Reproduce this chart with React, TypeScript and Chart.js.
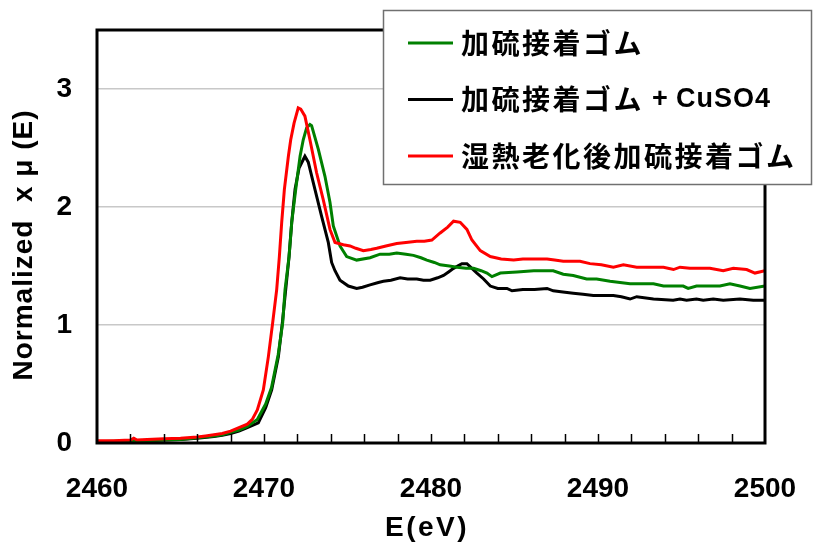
import React, { useEffect, useRef } from "react";
import { Chart, registerables } from "chart.js";

Chart.register(...registerables);

const seriesNames = ["加硫接着ゴム", "加硫接着ゴム + CuSO4", "湿熱老化後加硫接着ゴム"];
const seriesColors = ["#008000", "#000000", "#ff0000"];

const xTickLabels = [2460, 2470, 2480, 2490, 2500];
const yTickLabels = [0, 1, 2, 3];

const greenE = [2460, 2461, 2462, 2463, 2464, 2465, 2466, 2467, 2467.5, 2468, 2468.5, 2469, 2469.6, 2470.1, 2470.45, 2470.85, 2471.12, 2471.26, 2471.5, 2471.66, 2471.9, 2472.16, 2472.35, 2472.55, 2472.75, 2472.85, 2473.25, 2473.65, 2473.95, 2474.15, 2474.55, 2474.95, 2475.55, 2476.35, 2476.95, 2477.5, 2477.95, 2478.5, 2478.95, 2479.4, 2479.75, 2480.2, 2480.55, 2481.1, 2481.55, 2482.1, 2482.55, 2483, 2483.35, 2483.65, 2484.15, 2485.15, 2486.15, 2486.5, 2487.32, 2487.92, 2488.52, 2489.32, 2489.92, 2490.72, 2491.32, 2491.92, 2493.32, 2493.92, 2495.1, 2495.4, 2495.9, 2497.3, 2497.9, 2498.5, 2499.1, 2500];
const greenMu = [0.01, 0.015, 0.02, 0.02, 0.025, 0.03, 0.045, 0.06, 0.07, 0.09, 0.11, 0.14, 0.2, 0.33, 0.47, 0.75, 1.02, 1.3, 1.58, 1.87, 2.15, 2.43, 2.57, 2.67, 2.7, 2.69, 2.49, 2.26, 2.04, 1.84, 1.67, 1.58, 1.55, 1.57, 1.6, 1.6, 1.61, 1.6, 1.59, 1.57, 1.55, 1.53, 1.51, 1.5, 1.49, 1.48, 1.48, 1.46, 1.44, 1.41, 1.44, 1.45, 1.46, 1.46, 1.46, 1.43, 1.42, 1.39, 1.39, 1.37, 1.36, 1.35, 1.35, 1.33, 1.33, 1.31, 1.33, 1.33, 1.35, 1.33, 1.31, 1.33];

const blackE = [2460, 2461, 2462, 2463, 2464, 2465, 2466, 2467, 2467.5, 2468, 2468.5, 2469, 2469.66, 2470.1, 2470.46, 2470.86, 2471.1, 2471.3, 2471.5, 2471.66, 2471.86, 2472.1, 2472.45, 2472.65, 2473.05, 2473.45, 2473.85, 2474.05, 2474.25, 2474.55, 2475.05, 2475.55, 2475.9, 2476.35, 2476.85, 2477.15, 2477.6, 2478.15, 2478.6, 2479.15, 2479.55, 2479.95, 2480.4, 2480.75, 2481.05, 2481.35, 2481.85, 2482.15, 2482.45, 2482.75, 2483.15, 2483.55, 2484.0, 2484.55, 2484.85, 2485.5, 2486.2, 2486.95, 2487.32, 2487.9, 2488.52, 2489.1, 2489.72, 2490.92, 2491.4, 2491.92, 2492.32, 2493.32, 2494.5, 2494.91, 2495.3, 2495.9, 2496.3, 2496.9, 2497.5, 2498.5, 2499.3, 2500];
const blackMu = [0.01, 0.01, 0.015, 0.02, 0.025, 0.03, 0.04, 0.055, 0.065, 0.08, 0.1, 0.13, 0.17, 0.3, 0.45, 0.73, 1.02, 1.3, 1.58, 1.87, 2.15, 2.33, 2.43, 2.38, 2.15, 1.92, 1.7, 1.53, 1.46, 1.38, 1.33, 1.31, 1.32, 1.34, 1.36, 1.37, 1.38, 1.4, 1.39, 1.39, 1.38, 1.38, 1.4, 1.42, 1.45, 1.48, 1.52, 1.52, 1.48, 1.44, 1.39, 1.33, 1.31, 1.31, 1.29, 1.3, 1.3, 1.31, 1.29, 1.28, 1.27, 1.26, 1.25, 1.25, 1.24, 1.22, 1.24, 1.22, 1.21, 1.22, 1.21, 1.22, 1.21, 1.22, 1.21, 1.22, 1.21, 1.21];

const redE = [2460, 2461, 2462, 2462.2, 2462.4, 2463, 2464, 2465, 2466, 2466.5, 2467, 2467.5, 2468, 2468.5, 2469, 2469.3, 2469.6, 2469.96, 2470.26, 2470.52, 2470.76, 2470.92, 2471.06, 2471.22, 2471.46, 2471.6, 2471.8, 2472.05, 2472.2, 2472.45, 2472.75, 2473.15, 2473.55, 2473.95, 2474.25, 2474.75, 2475.15, 2475.5, 2475.95, 2476.4, 2476.75, 2477.3, 2477.95, 2478.5, 2479.15, 2479.6, 2480.05, 2480.55, 2481, 2481.35, 2481.75, 2482.15, 2482.45, 2482.95, 2483.55, 2484.2, 2484.95, 2485.5, 2486.2, 2486.95, 2487.4, 2487.92, 2488.92, 2489.52, 2490.2, 2490.92, 2491.52, 2492.32, 2493.1, 2493.92, 2494.52, 2494.91, 2495.5, 2496.7, 2497.5, 2498.1, 2498.9, 2499.4, 2500];
const redMu = [0.02, 0.02, 0.025, 0.04, 0.025, 0.03, 0.035, 0.04, 0.05, 0.06, 0.07, 0.08, 0.1, 0.13, 0.16, 0.2, 0.28, 0.45, 0.73, 1.02, 1.3, 1.58, 1.87, 2.15, 2.43, 2.57, 2.71, 2.84, 2.83, 2.77, 2.57, 2.29, 2.06, 1.81, 1.7, 1.68, 1.67, 1.65, 1.63, 1.64, 1.65, 1.67, 1.69, 1.7, 1.71, 1.71, 1.72, 1.78, 1.83, 1.88, 1.87, 1.81, 1.72, 1.63, 1.58, 1.56, 1.55, 1.56, 1.56, 1.56, 1.55, 1.54, 1.54, 1.52, 1.51, 1.49, 1.51, 1.49, 1.49, 1.49, 1.47, 1.49, 1.48, 1.48, 1.46, 1.48, 1.47, 1.44, 1.46];

const toPoints = (xs: number[], ys: number[]) => xs.map((x, i) => ({ x, y: ys[i] }));

const decorPlugin = {
  id: "decor",
  afterDatasetsDraw(chart: any) {
    const { ctx, chartArea } = chart;
    const xs = chart.scales.x;
    const { left, right, top, bottom } = chartArea;
    ctx.save();
    ctx.strokeStyle = "#000";
    ctx.lineWidth = 1.5;
    for (let v = 2462; v < 2500; v += 2) {
      const px = Math.round(xs.getPixelForValue(v)) + 0.5;
      ctx.beginPath();
      ctx.moveTo(px, bottom);
      ctx.lineTo(px, bottom - 9);
      ctx.stroke();
    }
    ctx.lineWidth = 3;
    ctx.strokeRect(left, top, right - left, bottom - top);

    ctx.fillStyle = "#000";
    ctx.font = 'bold 28px "Liberation Sans", Arial, sans-serif';
    ctx.textAlign = "center";
    ctx.textBaseline = "middle";
    (ctx as any).letterSpacing = "2.5px";
    ctx.fillText("E(eV)", 427, 528);
    (ctx as any).letterSpacing = "1px";
    ctx.save();
    ctx.translate(24, 245);
    ctx.rotate(-Math.PI / 2);
    ctx.fillText("Normalized  x μ (E)", 0, 0);
    ctx.restore();

    ctx.fillStyle = "#fff";
    ctx.fillRect(383, 10, 430, 175);
    ctx.strokeStyle = "#707070";
    ctx.lineWidth = 1.5;
    ctx.strokeRect(383.5, 10.5, 428, 174);

    const rows = [43, 99.5, 156];
    rows.forEach((y, i) => {
      ctx.strokeStyle = seriesColors[i];
      ctx.lineWidth = 3;
      ctx.beginPath();
      ctx.moveTo(408, y);
      ctx.lineTo(453, y);
      ctx.stroke();
      ctx.fillStyle = "#000";
      ctx.textAlign = "left";
      ctx.textBaseline = "middle";
      const name = seriesNames[i];
      const plus = name.indexOf(" + ");
      const jp = plus >= 0 ? name.slice(0, plus) : name;
      ctx.font = 'bold 28px "Noto Sans CJK JP", sans-serif';
      (ctx as any).letterSpacing = "2.5px";
      ctx.fillText(jp, 461, y);
      if (plus >= 0) {
        const w = ctx.measureText(jp).width;
        ctx.font = 'bold 27px "Liberation Sans", Arial, sans-serif';
        (ctx as any).letterSpacing = "1px";
        ctx.fillText("+", 461 + w + 8, y);
        ctx.fillText(name.slice(plus + 3), 461 + w + 32, y);
      }
    });
    (ctx as any).letterSpacing = "0px";
    ctx.restore();
  },
};

export default function App() {
  const ref = useRef<HTMLCanvasElement>(null);
  useEffect(() => {
    document.body.style.margin = "0";
    const canvas = ref.current!;
    const tickFont = { family: '"Liberation Sans", Arial, sans-serif', size: 28, weight: "bold" as const };
    const chart = new Chart(canvas, {
      type: "line",
      data: {
        datasets: [
          { label: seriesNames[2], data: toPoints(redE, redMu), borderColor: seriesColors[2], order: 0 },
          { label: seriesNames[0], data: toPoints(greenE, greenMu), borderColor: seriesColors[0], order: 1 },
          { label: seriesNames[1], data: toPoints(blackE, blackMu), borderColor: seriesColors[1], order: 2 },
        ].map((d) => ({ ...d, borderWidth: 3, pointRadius: 0, tension: 0, fill: false })),
      },
      options: {
        responsive: false,
        animation: false,
        devicePixelRatio: 1,
        layout: { padding: { top: 30, right: 48, left: 0, bottom: 0 } },
        plugins: { legend: { display: false }, tooltip: { enabled: false } },
        scales: {
          x: {
            type: "linear",
            min: 2460,
            max: 2500,
            grid: { display: false, drawTicks: false },
            border: { display: false },
            ticks: {
              color: "#000",
              font: tickFont,
              padding: 29,
              maxRotation: 0,
              autoSkip: false,
              callback: (v: any) => String(v),
            },
            afterBuildTicks: (s: any) => {
              s.ticks = xTickLabels.map((v) => ({ value: v }));
            },
            afterFit: (s: any) => {
              s.height = 100;
              s.paddingLeft = 0;
              s.paddingRight = 0;
            },
          },
          y: {
            type: "linear",
            min: 0,
            max: 3.5,
            grid: {
              drawTicks: false,
              lineWidth: 1.5,
              color: (c: any) => (c.tick && c.tick.value === 0 ? "rgba(0,0,0,0)" : "#c8c8c8"),
            },
            border: { display: false },
            ticks: { color: "#000", font: tickFont, padding: 25, callback: (v: any) => String(v) },
            afterBuildTicks: (s: any) => {
              s.ticks = yTickLabels.map((v) => ({ value: v }));
            },
            afterFit: (s: any) => {
              s.width = 97;
              s.paddingTop = 0;
              s.paddingBottom = 0;
            },
          },
        },
      },
      plugins: [decorPlugin],
    });
    return () => chart.destroy();
  }, []);
  return <canvas ref={ref} width={813} height={543} style={{ display: "block", width: 813, height: 543 }} />;
}
